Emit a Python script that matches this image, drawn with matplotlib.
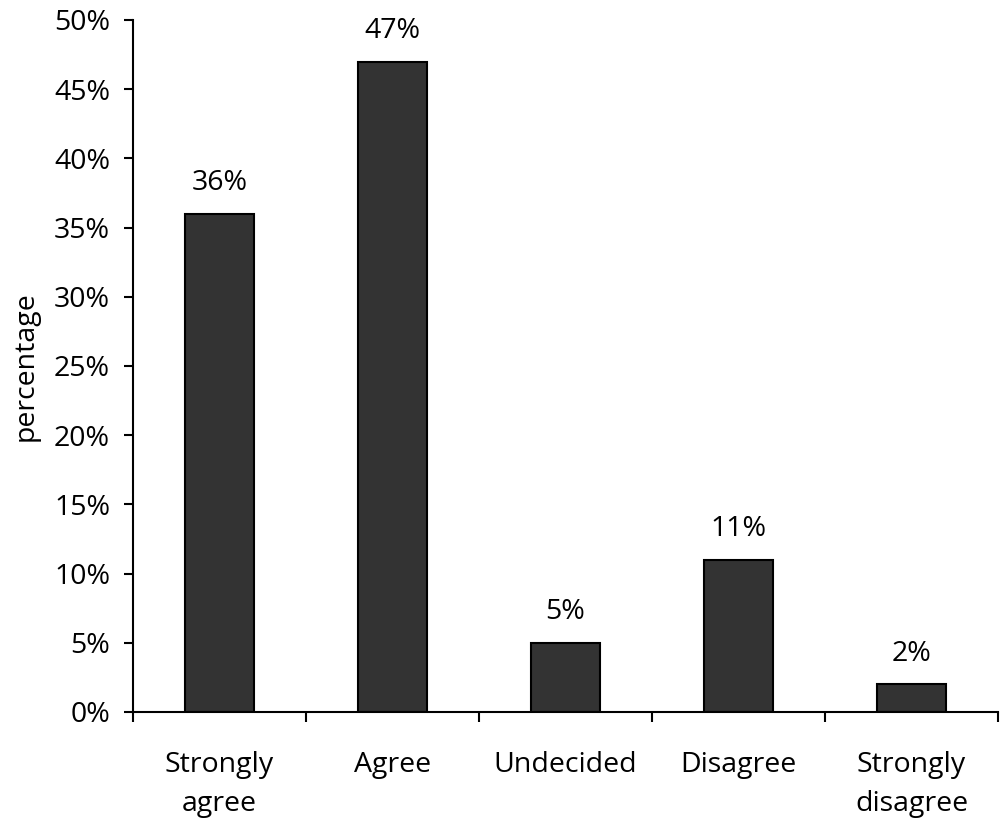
import matplotlib
matplotlib.use("Agg")
import matplotlib.pyplot as plt
import numpy as np
from matplotlib.ticker import FixedLocator, PercentFormatter

categories = ["Strongly\nagree", "Agree", "Undecided", "Disagree", "Strongly\ndisagree"]
values = [36, 47, 5, 11, 2]
yticks = [0, 5, 10, 15, 20, 25, 30, 35, 40, 45, 50]

plt.rcParams['font.family'] = ['Open Sans', 'DejaVu Sans']
FS = 20.5

fig = plt.figure(figsize=(10.04, 8.19), dpi=100)
ax = fig.add_axes([133/1004, 1 - 712/819, (998-133)/1004, (712-20)/819])

x = np.arange(len(categories))
bars = ax.bar(x, values, width=0.4, color='#333333', edgecolor='black', linewidth=1.5, zorder=2)

for xi, v in zip(x, values):
    ax.annotate(f"{v}%", (xi, v), xytext=(0, 12), textcoords='offset points',
                ha='center', va='bottom', fontsize=FS)

ax.set_xlim(-0.5, len(categories) - 0.5)
ax.set_ylim(0, 50)
ax.set_yticks(yticks)
ax.yaxis.set_major_formatter(PercentFormatter(decimals=0))
ax.set_xticks(x)
ax.set_xticklabels(categories, fontsize=FS, linespacing=1.55)
ax.xaxis.set_minor_locator(FixedLocator(np.arange(-0.5, len(categories), 1.0)))
ax.tick_params(axis='x', which='major', length=0, pad=28)
ax.tick_params(axis='x', which='minor', length=7.5, width=1.5, direction='out')
ax.tick_params(axis='y', length=6.5, width=1.5, direction='out', pad=10, labelsize=FS)

for s in ['top', 'right']:
    ax.spines[s].set_visible(False)
for s in ['left', 'bottom']:
    ax.spines[s].set_linewidth(1.5)

ax.set_ylabel("percentage", fontsize=FS)
ax.yaxis.set_label_coords(-0.108, 0.5)

fig.savefig("out.png", dpi=100)
